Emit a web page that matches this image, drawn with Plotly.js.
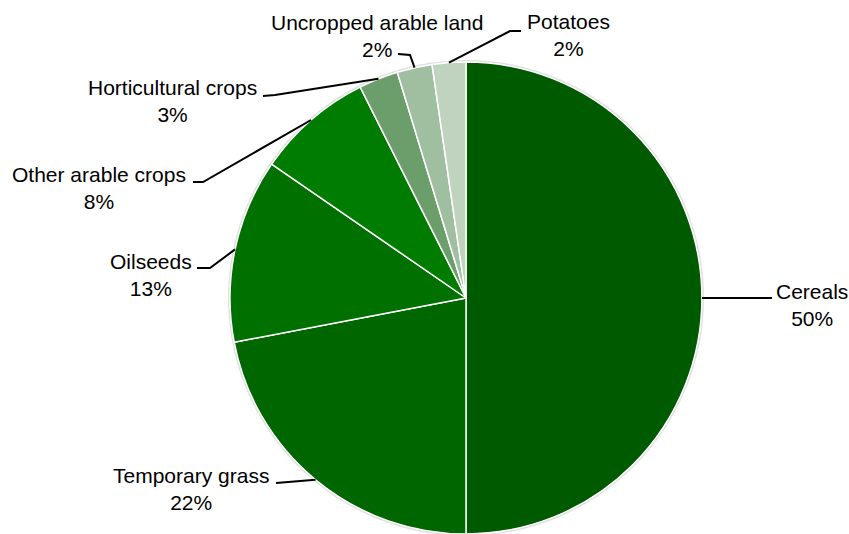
<!DOCTYPE html>
<html>
<head>
<meta charset="utf-8">
<script src="https://cdn.plot.ly/plotly-3.0.1.min.js"></script>
<style>html,body{margin:0;padding:0;background:#fff;}#chart{width:849px;height:534px;}</style>
</head>
<body>
<div id="chart"></div>
<script>
// ---- data ----
const categories = ["Cereals", "Temporary grass", "Oilseeds", "Other arable crops", "Horticultural crops", "Uncropped arable land", "Potatoes"];
const shares = [50.0, 22.0, 12.6, 8.0, 2.7, 2.4, 2.3];
const percentLabels = ["50%", "22%", "13%", "8%", "3%", "2%", "2%"];

// ---- styles / layout config ----
const sliceColors = ["#005a00", "#006600", "#007100", "#007c00", "#6c9e6c", "#a0bfa0", "#bfd3bf"];
const W = 849, H = 534;
const PIE_CX = 466, PIE_CY = 298, PIE_R = 236;
// label text-block centres and leader-line elbow/end points (pixels)
const labelLayout = [
  {tx: 812, ty: 305, pts: [[772, 298]]},
  {tx: 191, ty: 489, pts: [[276, 483]]},
  {tx: 151, ty: 275, pts: [[210, 268], [197, 268]]},
  {tx: 99,  ty: 188, pts: [[203, 182], [193, 182]]},
  {tx: 172, ty: 101, pts: [[275, 95], [263, 96]]},
  {tx: 377, ty: 36,  pts: [[410, 55], [398, 54]]},
  {tx: 568, ty: 35,  pts: [[510, 31], [521, 31]]}
];

const px = x => x / W;
const py = y => 1 - y / H;

const total = shares.reduce((a, b) => a + b, 0);
let cum = 0;
const annotations = [], shapes = [];
categories.forEach((c, i) => {
  const mid = (cum + shares[i] / 2) / total * 2 * Math.PI;
  cum += shares[i];
  const ax = PIE_CX + PIE_R * Math.sin(mid);
  const ay = PIE_CY - PIE_R * Math.cos(mid);
  const L = labelLayout[i];
  let path = `M ${px(ax)},${py(ay)}`;
  L.pts.forEach(p => { path += ` L ${px(p[0])},${py(p[1])}`; });
  shapes.push({type: 'path', xref: 'paper', yref: 'paper', path: path,
               line: {color: '#000', width: 2}});
  annotations.push({xref: 'paper', yref: 'paper', x: px(L.tx), y: py(L.ty),
    xanchor: 'center', yanchor: 'middle', align: 'center', showarrow: false,
    text: c + '<br>' + percentLabels[i],
    font: {family: 'Liberation Sans, Arial, sans-serif', size: 21, color: '#000'}});
});

const trace = {
  type: 'pie',
  labels: categories,
  values: shares,
  sort: false,
  direction: 'clockwise',
  rotation: 0,
  textinfo: 'none',
  hoverinfo: 'label+percent',
  marker: {colors: sliceColors, line: {color: '#ffffff', width: 1.5}},
  domain: {x: [px(PIE_CX - PIE_R), px(PIE_CX + PIE_R)], y: [py(PIE_CY + PIE_R), py(PIE_CY - PIE_R)]},
  showlegend: false
};

// faint shadow ring behind the pie
shapes.unshift({type: 'circle', xref: 'paper', yref: 'paper', layer: 'below',
  x0: px(PIE_CX - PIE_R - 2), x1: px(PIE_CX + PIE_R + 2),
  y0: py(PIE_CY + PIE_R + 2), y1: py(PIE_CY - PIE_R - 2),
  line: {width: 0}, fillcolor: 'rgba(0,0,0,0.12)'});

Plotly.newPlot('chart', [trace], {
  width: W, height: H,
  margin: {l: 0, r: 0, t: 0, b: 0},
  paper_bgcolor: '#ffffff',
  showlegend: false,
  shapes: shapes,
  annotations: annotations
}, {displayModeBar: false, staticPlot: true});
</script>
</body>
</html>
